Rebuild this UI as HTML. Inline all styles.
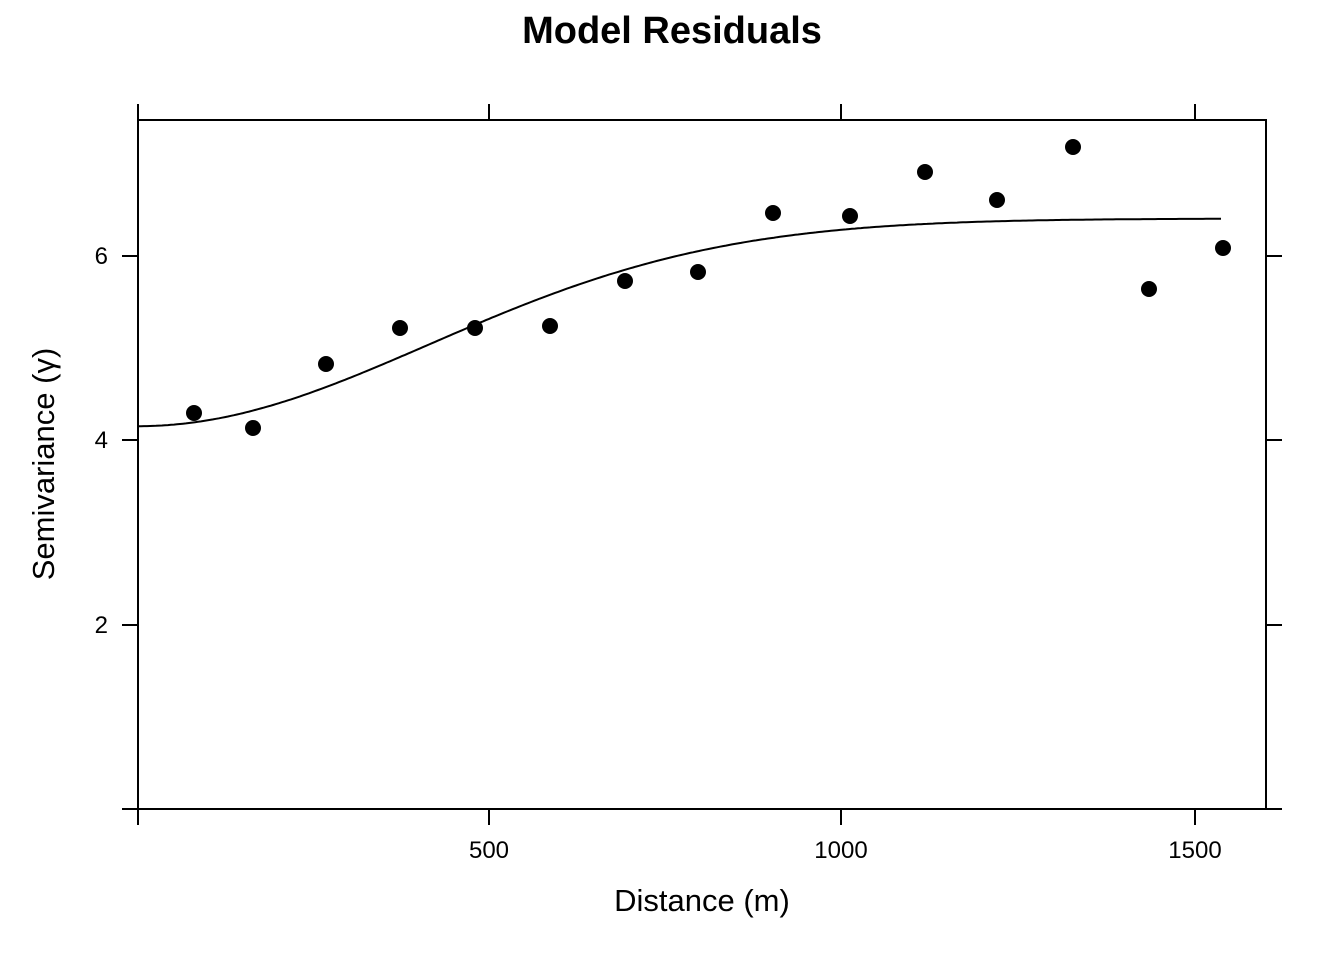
<!DOCTYPE html>
<html><head><meta charset="utf-8"><style>
html,body{margin:0;padding:0;background:#fff;}
text{font-family:"Liberation Sans",Arial,sans-serif;}
</style></head><body>
<svg id="s" width="1344" height="960" xmlns="http://www.w3.org/2000/svg">
<text x="672" y="43" text-anchor="middle" font-size="38" font-weight="bold">Model Residuals</text>
<rect x="138" y="120" width="1128" height="689" fill="none" stroke="#000" stroke-width="2"/>
<g stroke="#000" stroke-width="2">
<line x1="138" y1="809" x2="138" y2="825"/><line x1="489" y1="809" x2="489" y2="825"/><line x1="841" y1="809" x2="841" y2="825"/><line x1="1195" y1="809" x2="1195" y2="825"/>
<line x1="138" y1="120" x2="138" y2="104"/><line x1="489" y1="120" x2="489" y2="104"/><line x1="841" y1="120" x2="841" y2="104"/><line x1="1195" y1="120" x2="1195" y2="104"/>
<line x1="122" y1="809" x2="138" y2="809"/><line x1="122" y1="625" x2="138" y2="625"/><line x1="122" y1="440" x2="138" y2="440"/><line x1="122" y1="256" x2="138" y2="256"/>
<line x1="1266" y1="809" x2="1282" y2="809"/><line x1="1266" y1="625" x2="1282" y2="625"/><line x1="1266" y1="440" x2="1282" y2="440"/><line x1="1266" y1="256" x2="1282" y2="256"/>
</g>
<g font-size="24" text-anchor="middle">
<text x="489" y="858">500</text><text x="841" y="858">1000</text><text x="1195" y="858">1500</text>
</g>
<g font-size="24" text-anchor="end">
<text x="108" y="264">6</text><text x="108" y="448">4</text><text x="108" y="633">2</text>
</g>
<text x="702" y="911" text-anchor="middle" font-size="31">Distance (m)</text>
<text transform="translate(54,464) rotate(-90)" text-anchor="middle" font-size="31">Semivariance (γ)</text>
<path id="c" fill="none" stroke="#000" stroke-width="2"/>
<g fill="#000">
<circle cx="194" cy="413" r="8"/><circle cx="253" cy="428" r="8"/><circle cx="326" cy="364" r="8"/><circle cx="400" cy="328" r="8"/><circle cx="475" cy="328" r="8"/><circle cx="550" cy="326" r="8"/><circle cx="625" cy="281" r="8"/><circle cx="698" cy="272" r="8"/><circle cx="773" cy="213" r="8"/><circle cx="850" cy="216" r="8"/><circle cx="925" cy="172" r="8"/><circle cx="997" cy="200" r="8"/><circle cx="1073" cy="147" r="8"/><circle cx="1149" cy="289" r="8"/><circle cx="1223" cy="248" r="8"/>
</g>
</svg>
<script>
var d="";for(var px=138;px<=1223;px+=3){var h=(px-138)/0.7035;var g=4.15+2.25*(1-Math.exp(-Math.pow(h/585,2)));var py=809-g*92.25;d+=(d?"L":"M")+px+","+py.toFixed(1);}
document.getElementById("c").setAttribute("d",d);
</script>
</body></html>
